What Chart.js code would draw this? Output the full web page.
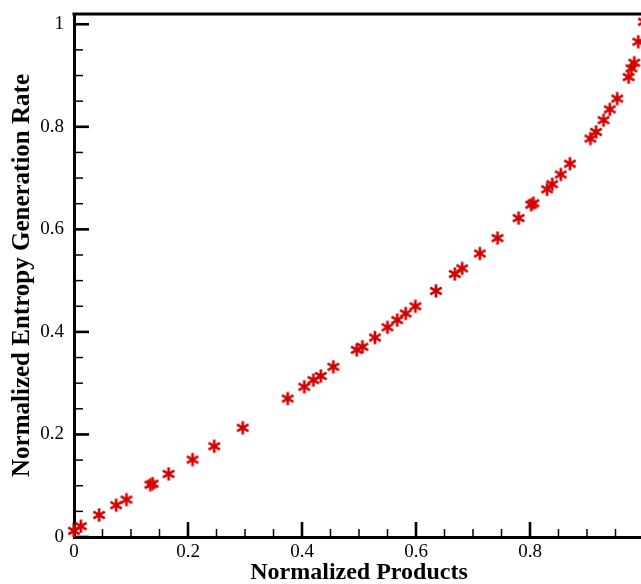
<!DOCTYPE html>
<html>
<head>
<meta charset="utf-8">
<script src="https://cdn.jsdelivr.net/npm/chart.js@4"></script>
<style>
html,body{margin:0;padding:0;background:#fff;overflow:hidden;}
#wrap{width:641px;height:584px;overflow:hidden;position:relative;}
#inner{width:660px;height:584px;}
</style>
</head>
<body>
<div id="wrap"><div id="inner"><canvas id="c" width="660" height="584"></canvas></div></div>
<script>
const xTitle = 'Normalized Products';
const yTitle = 'Normalized Entropy Generation Rate';
const xTickValues = [0, 0.2, 0.4, 0.6, 0.8];
const yTickValues = [0, 0.2, 0.4, 0.6, 0.8, 1];
const xValues = [0.0, 0.012, 0.044, 0.074, 0.092, 0.134, 0.138, 0.166, 0.208, 0.246, 0.296, 0.375, 0.404, 0.420, 0.433, 0.455, 0.496, 0.506, 0.528, 0.550, 0.567, 0.582, 0.599, 0.635, 0.668, 0.681, 0.712, 0.743, 0.780, 0.802, 0.806, 0.830, 0.839, 0.854, 0.870, 0.906, 0.916, 0.929, 0.940, 0.953, 0.973, 0.978, 0.983, 0.990, 1.0];
const yValues = [0.012, 0.021, 0.043, 0.062, 0.073, 0.102, 0.104, 0.123, 0.151, 0.177, 0.213, 0.270, 0.293, 0.306, 0.314, 0.332, 0.365, 0.371, 0.389, 0.409, 0.423, 0.436, 0.450, 0.480, 0.513, 0.524, 0.553, 0.583, 0.622, 0.648, 0.651, 0.678, 0.688, 0.707, 0.728, 0.777, 0.790, 0.813, 0.834, 0.855, 0.897, 0.914, 0.925, 0.966, 1.005];

const RED = '#d40000';
function makeAsterisk(color) {
  const c = document.createElement('canvas');
  c.width = 18; c.height = 18;
  const g = c.getContext('2d');
  g.strokeStyle = color; g.lineWidth = 2.7; g.lineCap = 'butt';
  const r = 6.6, cx = 9, cy = 9;
  [90, 30, -30].forEach(a => {
    const t = a * Math.PI / 180;
    g.beginPath();
    g.moveTo(cx - r * Math.cos(t), cy - r * Math.sin(t));
    g.lineTo(cx + r * Math.cos(t), cy + r * Math.sin(t));
    g.stroke();
  });
  return c;
}
const marker = makeAsterisk(RED);

const tickPlugin = {
  id: 'inwardTicks',
  beforeDatasetsDraw(chart) {
    const ctx = chart.ctx;
    const xs = chart.scales.x, ys = chart.scales.y;
    const a = chart.chartArea;
    ctx.save();
    ctx.strokeStyle = '#000';
    ctx.lineWidth = 1.5;
    for (let i = 0; i <= 20; i++) {
      const v = i * 0.05;
      const px = xs.getPixelForValue(v);
      if (px <= a.right + 1) {
        ctx.beginPath(); ctx.moveTo(px, a.bottom); ctx.lineTo(px, a.bottom - 8); ctx.stroke();
      }
      const py = ys.getPixelForValue(v);
      ctx.beginPath(); ctx.moveTo(a.left, py); ctx.lineTo(a.left + 9, py); ctx.stroke();
    }
    ctx.lineWidth = 2.6;
    xTickValues.forEach(v => {
      const px = xs.getPixelForValue(v);
      ctx.beginPath(); ctx.moveTo(px, a.bottom); ctx.lineTo(px, a.bottom - 15); ctx.stroke();
    });
    yTickValues.forEach(v => {
      const py = ys.getPixelForValue(v);
      ctx.beginPath(); ctx.moveTo(a.left, py); ctx.lineTo(a.left + 15, py); ctx.stroke();
    });
    ctx.lineWidth = 3;
    ctx.beginPath();
    ctx.moveTo(a.left - 1.5, a.top); ctx.lineTo(a.right, a.top); ctx.lineTo(a.right, a.bottom);
    ctx.stroke();
    ctx.restore();
  }
};

new Chart(document.getElementById('c'), {
  type: 'scatter',
  data: {
    datasets: [{
      data: xValues.map((x, i) => ({ x: x, y: yValues[i] })),
      pointStyle: marker,
      pointRadius: 7,
      pointHoverRadius: 7,
      showLine: false,
      clip: false
    }]
  },
  options: {
    responsive: false,
    devicePixelRatio: 1,
    animation: false,
    events: [],
    layout: { padding: { top: 14, right: 16, left: 0, bottom: 0 } },
    plugins: { legend: { display: false }, tooltip: { enabled: false } },
    scales: {
      x: {
        type: 'linear', min: 0, max: 1,
        afterBuildTicks(s) { s.ticks = xTickValues.map(v => ({ value: v })); },
        afterFit(s) { s.height = 47; s.paddingLeft = 0; s.paddingRight = 0; },
        grid: { display: false, drawTicks: false },
        border: { display: true, color: '#000', width: 3 },
        ticks: {
          padding: 4, color: '#000',
          font: { family: 'Liberation Serif', size: 19 },
          maxRotation: 0, autoSkip: false,
          callback: v => String(v)
        },
        title: {
          display: true, text: xTitle, color: '#000',
          font: { family: 'Liberation Serif', size: 24, weight: 'bold', lineHeight: 1 },
          padding: { top: 0, bottom: -1 }
        }
      },
      y: {
        type: 'linear', min: 0, max: 1.02,
        afterBuildTicks(s) { s.ticks = yTickValues.map(v => ({ value: v })); },
        afterFit(s) { s.width = 74; s.paddingTop = 0; s.paddingBottom = 0; },
        grid: { display: false, drawTicks: false },
        border: { display: true, color: '#000', width: 3 },
        ticks: {
          padding: 10, color: '#000',
          font: { family: 'Liberation Serif', size: 19 },
          autoSkip: false,
          callback: v => String(v)
        },
        title: {
          display: true, text: yTitle, color: '#000',
          font: { family: 'Liberation Serif', size: 25, weight: 'bold', lineHeight: 1 },
          padding: { top: 10, bottom: 0 }
        }
      }
    }
  },
  plugins: [tickPlugin]
});
</script>
</body>
</html>
